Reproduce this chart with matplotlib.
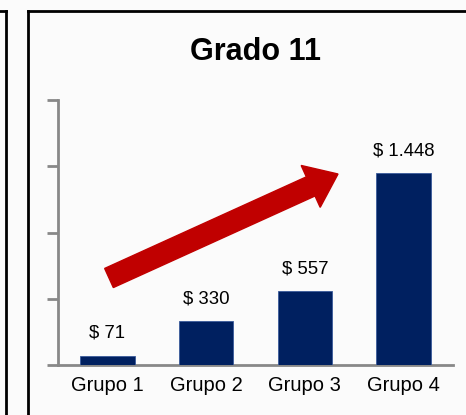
import matplotlib
matplotlib.use("Agg")
import matplotlib.pyplot as plt
from matplotlib.patches import FancyArrow
from matplotlib.lines import Line2D
from matplotlib.transforms import IdentityTransform

categories = ["Grupo 1", "Grupo 2", "Grupo 3", "Grupo 4"]
values = [71, 330, 557, 1448]
labels = ["$ 71", "$ 330", "$ 557", "$ 1.448"]
title = "Grado 11"

W, H = 466, 415
DPI = 100
plt.rcParams['font.family'] = ['Liberation Sans', 'DejaVu Sans']
fig = plt.figure(figsize=(W / DPI, H / DPI), dpi=DPI, facecolor="#FBFBFB")

def fx(px):
    return px / W

def fy(py):
    return 1 - py / H

ax = fig.add_axes([fx(58), fy(365), fx(453) - fx(58), fy(100) - fy(365)])
ax.set_facecolor("none")
x = range(len(categories))
ax.bar(x, values, width=0.55, color="#002060", edgecolor="#3a5a9a", linewidth=0.6, zorder=3)
ax.set_xlim(-0.5, 3.5)
ax.set_ylim(0, 2000)
ax.set_yticks([0, 500, 1000, 1500, 2000])
ax.set_yticklabels([])
ax.set_xticks(list(x))
ax.set_xticklabels(categories, fontsize=14.5)
ax.tick_params(axis='x', length=0, pad=8)
ax.tick_params(axis='y', length=8, width=2, color="#888888", direction='out')
for s in ["top", "right"]:
    ax.spines[s].set_visible(False)
for s in ["left", "bottom"]:
    ax.spines[s].set_color("#888888")
    ax.spines[s].set_linewidth(2)

for xi, v, lab in zip(x, values, labels):
    ax.annotate(lab, (xi, v), xytext=(0, 10), textcoords="offset points",
                ha="center", va="bottom", fontsize=13.4)

fig.text(fx(255.5), fy(51.5), title, ha="center", va="center", fontsize=22, fontweight="bold")

# red trend arrow (display pixel coordinates)
x0, y0 = 109, H - 278
x1, y1 = 338, H - 174
arrow = FancyArrow(x0, y0, x1 - x0, y1 - y0, width=21, head_width=46, head_length=30,
                   length_includes_head=True, color="#C00000", transform=IdentityTransform(),
                   zorder=5)
fig.add_artist(arrow)

# panel borders
fig.add_artist(Line2D([fx(28), fx(28)], [fy(11), 0], color="black", lw=2, transform=fig.transFigure))
fig.add_artist(Line2D([fx(28), 1], [fy(11), fy(11)], color="black", lw=2, transform=fig.transFigure))
fig.add_artist(Line2D([fx(5.5), fx(5.5)], [fy(11), 0], color="black", lw=2, transform=fig.transFigure))
fig.add_artist(Line2D([0, fx(5.5)], [fy(11), fy(11)], color="black", lw=2, transform=fig.transFigure))

fig.savefig("out.png", dpi=DPI, facecolor=fig.get_facecolor())
